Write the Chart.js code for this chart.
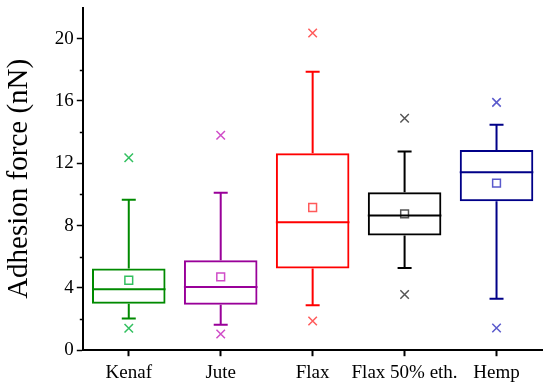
<!DOCTYPE html>
<html>
<head>
<meta charset="utf-8">
<script src="https://cdn.jsdelivr.net/npm/chart.js@4"></script>
<style>
  html, body { margin: 0; padding: 0; background: #fff; }
  #wrap { width: 550px; height: 389px; }
</style>
</head>
<body>
<div id="wrap"><canvas id="c"></canvas></div>
<script>
// box plot values (nN)
const categories = ['Kenaf', 'Jute', 'Flax', 'Flax 50% eth.', 'Hemp']
const q1 = [2.98, 2.92, 5.24, 7.37, 9.56]
const q3 = [5.24, 5.77, 12.65, 10.14, 12.86]
const medians = [3.92, 4.05, 8.22, 8.65, 11.42]
const means = [4.49, 4.71, 9.16, 8.75, 10.73]
const whiskerLow = [2.04, 1.64, 2.88, 5.28, 3.3]
const whiskerHigh = [9.66, 10.1, 17.87, 12.76, 14.48]
const outlierLow = [1.41, 1.04, 1.87, 3.58, 1.43]
const outlierHigh = [12.35, 13.8, 20.36, 14.89, 15.91]

const boxColors = ['#008a00', '#990099', '#ff0000', '#000000', '#000088']
const markColors = ['#33c060', '#d04cc8', '#ff5a5a', '#555555', '#5a5acc']

// whiskers, caps, medians and minor y ticks
const boxExtras = {
  id: 'boxExtras',
  afterDatasetsDraw(chart) {
    const ctx = chart.ctx
    const x = chart.scales.x
    const y = chart.scales.y
    const meta = chart.getDatasetMeta(0)
    ctx.save()
    ctx.lineWidth = 2
    categories.forEach((c, i) => {
      const bar = meta.data[i]
      const cx = x.getPixelForValue(i)
      const half = bar.width / 2
      ctx.strokeStyle = boxColors[i]
      ctx.beginPath()
      // median
      ctx.moveTo(cx - half, y.getPixelForValue(medians[i]))
      ctx.lineTo(cx + half, y.getPixelForValue(medians[i]))
      // whiskers
      ctx.moveTo(cx, y.getPixelForValue(q3[i]))
      ctx.lineTo(cx, y.getPixelForValue(whiskerHigh[i]))
      ctx.moveTo(cx, y.getPixelForValue(q1[i]))
      ctx.lineTo(cx, y.getPixelForValue(whiskerLow[i]))
      // caps
      ctx.moveTo(cx - 7, y.getPixelForValue(whiskerHigh[i]))
      ctx.lineTo(cx + 7, y.getPixelForValue(whiskerHigh[i]))
      ctx.moveTo(cx - 7, y.getPixelForValue(whiskerLow[i]))
      ctx.lineTo(cx + 7, y.getPixelForValue(whiskerLow[i]))
      ctx.stroke()
    })
    // minor ticks on y
    ctx.strokeStyle = '#000'
    ctx.lineWidth = 1.5
    ctx.beginPath()
    for (let v = 2; v <= 18; v += 4) {
      const py = Math.round(y.getPixelForValue(v)) + 0.5
      ctx.moveTo(y.right - 3, py)
      ctx.lineTo(y.right, py)
    }
    ctx.stroke()
    ctx.restore()
  },
}

const serif = '"Liberation Serif", "Times New Roman", serif'

new Chart(document.getElementById('c'), {
  type: 'bar',
  data: {
    labels: categories,
    datasets: [
      {
        label: 'box',
        data: q1.map((v, i) => [v, q3[i]]),
        backgroundColor: 'rgba(0,0,0,0)',
        borderColor: boxColors,
        borderWidth: 2,
        borderSkipped: false,
        categoryPercentage: 0.8,
        barPercentage: 1,
        order: 2,
      },
      {
        type: 'line',
        label: 'mean',
        data: means,
        showLine: false,
        pointStyle: 'rect',
        pointRadius: 5.5,
        pointBorderWidth: 1.5,
        pointBorderColor: markColors,
        pointBackgroundColor: 'rgba(0,0,0,0)',
        order: 1,
      },
      {
        type: 'line',
        label: 'outlier high',
        data: outlierHigh,
        showLine: false,
        pointStyle: 'crossRot',
        pointRadius: 6,
        pointBorderWidth: 1.5,
        pointBorderColor: markColors,
        order: 1,
      },
      {
        type: 'line',
        label: 'outlier low',
        data: outlierLow,
        showLine: false,
        pointStyle: 'crossRot',
        pointRadius: 6,
        pointBorderWidth: 1.5,
        pointBorderColor: markColors,
        order: 1,
      },
    ],
  },
  options: {
    responsive: true,
    maintainAspectRatio: false,
    animation: false,
    layout: { padding: { top: 7, right: 7, left: 2, bottom: 0 } },
    plugins: {
      legend: { display: false },
      tooltip: { enabled: false },
    },
    scales: {
      x: {
        offset: true,
        grid: { display: true, drawOnChartArea: false, offset: false, tickLength: 6, tickColor: '#000', tickWidth: 2 },
        border: { color: '#000', width: 2 },
        ticks: { color: '#000', font: { family: serif, size: 19 }, padding: 5, maxRotation: 0, autoSkip: false },
      },
      y: {
        min: 0,
        max: 22,
        afterFit: (scale) => {
          scale.paddingTop = 0
        },
        ticks: {
          stepSize: 4,
          color: '#000',
          font: { family: serif, size: 19 },
          padding: 3,
          // hide the top (22) tick, its label and its mark
          callback: (v) => (v > 20 ? null : v),
        },
        grid: { display: true, drawOnChartArea: false, tickLength: 6, tickColor: '#000', tickWidth: 1.5 },
        border: { color: '#000', width: 2 },
        title: { display: true, text: 'Adhesion force (nN)', color: '#000', font: { family: serif, size: 29 }, padding: { top: 0, bottom: 15 } },
      },
    },
  },
  plugins: [boxExtras],
})
</script>
</body>
</html>
